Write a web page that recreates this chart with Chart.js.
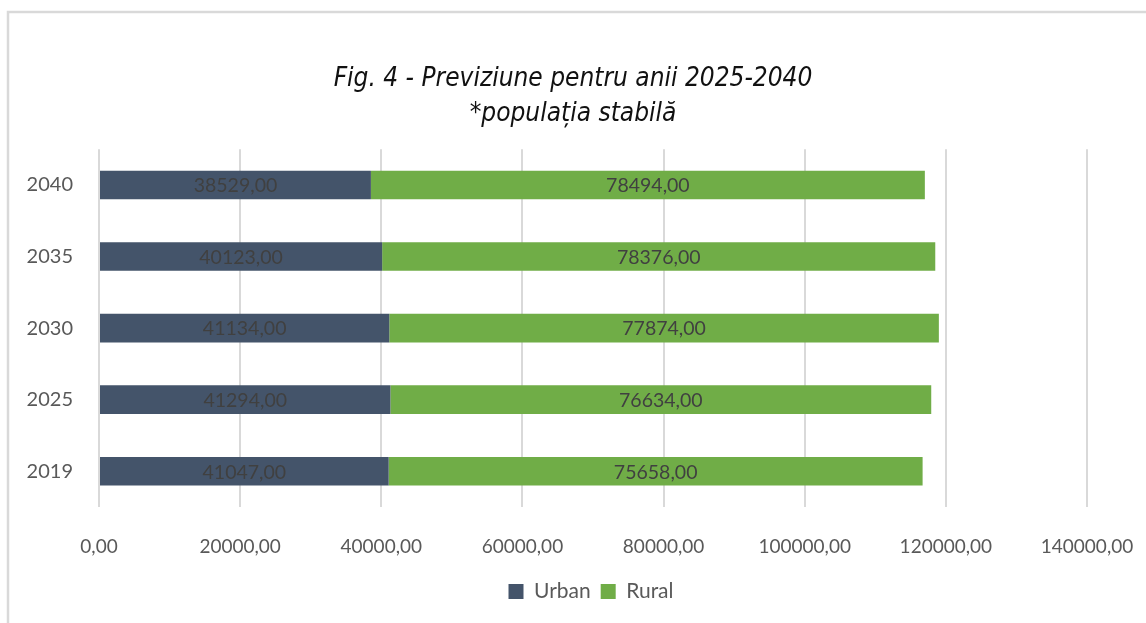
<!DOCTYPE html>
<html>
<head>
<meta charset="utf-8">
<script src="https://cdn.jsdelivr.net/npm/chart.js@4/dist/chart.umd.min.js"></script>
<style>
  html, body { margin: 0; padding: 0; background: #fff; }
  canvas { display: block; }
</style>
</head>
<body>
<canvas id="chart" width="1146" height="623"></canvas>
<script>
const years = ['2040', '2035', '2030', '2025', '2019'];
const urban = [38529, 40123, 41134, 41294, 41047];
const rural = [78494, 78376, 77874, 76634, 75658];
const titleLines = ['Fig. 4 - Previziune pentru anii 2025-2040', '*populația stabilă'];

const fmt = v => Number(v).toFixed(2).replace('.', ',');
const bodyFont = "Lato, 'Open Sans', sans-serif";

// light frame around the chart, like the office chart border
const framePlugin = {
  id: 'frame',
  beforeDraw(chart) {
    const ctx = chart.ctx;
    ctx.save();
    ctx.strokeStyle = '#d9d9d9';
    ctx.lineWidth = 2.5;
    ctx.beginPath();
    ctx.moveTo(8, chart.height);
    ctx.lineTo(8, 12);
    ctx.lineTo(chart.width, 12);
    ctx.stroke();
    ctx.restore();
  }
};

// value labels centred in each segment
const barLabels = {
  id: 'barLabels',
  afterDatasetsDraw(chart) {
    const ctx = chart.ctx;
    ctx.save();
    ctx.font = '19.5px ' + bodyFont;
    ctx.fillStyle = '#404040';
    ctx.textAlign = 'center';
    ctx.textBaseline = 'middle';
    chart.data.datasets.forEach((ds, i) => {
      chart.getDatasetMeta(i).data.forEach((bar, j) => {
        const p = bar.getProps(['x', 'y', 'base'], true);
        ctx.fillText(fmt(ds.data[j]), (p.x + p.base) / 2, p.y + 1);
      });
    });
    ctx.restore();
  }
};

// legend sits centred over the plot area rather than the whole canvas
const legendShift = {
  id: 'legendShift',
  afterLayout(chart) {
    if (chart.legend) chart.legend.left += 36;
  }
};

new Chart(document.getElementById('chart'), {
  type: 'bar',
  data: {
    labels: years,
    datasets: [
      { label: 'Urban', data: urban, backgroundColor: '#44546a' },
      { label: 'Rural', data: rural, backgroundColor: '#70ad47' },
    ]
  },
  options: {
    indexAxis: 'y',
    responsive: false,
    animation: false,
    barPercentage: 0.4,
    categoryPercentage: 1,
    layout: { padding: { left: 0, right: 0, top: 0, bottom: 11 } },
    plugins: {
      title: {
        display: true,
        text: titleLines,
        color: '#111',
        font: { family: "'Liberation Sans Narrow', 'DejaVu Sans Condensed', sans-serif", size: 26, style: 'italic', weight: 'normal', lineHeight: 1.35 },
        padding: { top: 62, bottom: 17 }
      },
      legend: {
        position: 'bottom',
        labels: { color: '#595959', font: { size: 21, family: bodyFont }, boxWidth: 15, boxHeight: 15, padding: 10 }
      },
      tooltip: { enabled: false }
    },
    scales: {
      x: {
        stacked: true, min: 0, max: 140000,
        ticks: { stepSize: 20000, color: '#595959', font: { size: 19, family: bodyFont }, padding: 28, callback: v => fmt(v) },
        grid: { color: '#d9d9d9', lineWidth: 2, drawTicks: false },
        border: { display: false },
        afterFit: s => { s.height = 64; s.paddingLeft = 0; s.paddingRight = 0; }
      },
      y: {
        stacked: true,
        ticks: { color: '#595959', font: { size: 20, family: bodyFont }, padding: 18 },
        grid: { display: false },
        border: { display: false },
        afterFit: s => { s.width = 99; }
      },
      spacer: {
        type: 'linear', position: 'right', display: true,
        ticks: { display: false }, grid: { display: false }, border: { display: false },
        afterFit: s => { s.width = 59; }
      }
    }
  },
  plugins: [framePlugin, barLabels, legendShift]
});
</script>
</body>
</html>
